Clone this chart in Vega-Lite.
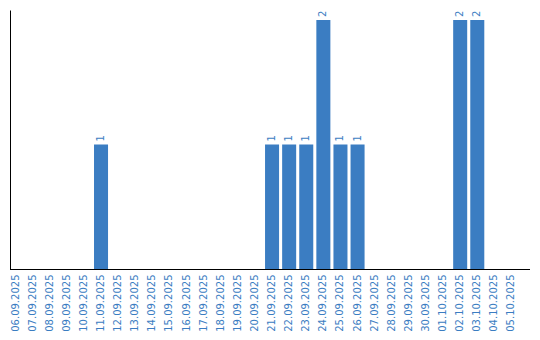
{
  "$schema": "https://vega.github.io/schema/vega-lite/v6.json",
  "width": 520,
  "height": 259,
  "autosize": "none",
  "padding": {"left": 10, "top": 10, "right": 10, "bottom": 71},
  "background": "white",
  "config": {"view": {"stroke": null}, "font": "DejaVu Sans"},
  "data": {"values": [
    {"date": "06.09.2025", "count": 0},
    {"date": "07.09.2025", "count": 0},
    {"date": "08.09.2025", "count": 0},
    {"date": "09.09.2025", "count": 0},
    {"date": "10.09.2025", "count": 0},
    {"date": "11.09.2025", "count": 1},
    {"date": "12.09.2025", "count": 0},
    {"date": "13.09.2025", "count": 0},
    {"date": "14.09.2025", "count": 0},
    {"date": "15.09.2025", "count": 0},
    {"date": "16.09.2025", "count": 0},
    {"date": "17.09.2025", "count": 0},
    {"date": "18.09.2025", "count": 0},
    {"date": "19.09.2025", "count": 0},
    {"date": "20.09.2025", "count": 0},
    {"date": "21.09.2025", "count": 1},
    {"date": "22.09.2025", "count": 1},
    {"date": "23.09.2025", "count": 1},
    {"date": "24.09.2025", "count": 2},
    {"date": "25.09.2025", "count": 1},
    {"date": "26.09.2025", "count": 1},
    {"date": "27.09.2025", "count": 0},
    {"date": "28.09.2025", "count": 0},
    {"date": "29.09.2025", "count": 0},
    {"date": "30.09.2025", "count": 0},
    {"date": "01.10.2025", "count": 0},
    {"date": "02.10.2025", "count": 2},
    {"date": "03.10.2025", "count": 2},
    {"date": "04.10.2025", "count": 0},
    {"date": "05.10.2025", "count": 0}
  ]},
  "layer": [
    {
      "mark": {"type": "bar", "color": "#3b7dc2"},
      "encoding": {
        "x": {
          "field": "date", "type": "nominal", "sort": null,
          "scale": {"range": [-1.5, 508.5], "paddingInner": 0.18, "paddingOuter": 0},
          "axis": {
            "title": null, "labelAngle": 270, "ticks": false, "labelPadding": 5,
            "labelColor": "#3b7dc2", "labelFontSize": 10, "labelFont": "DejaVu Sans",
            "domain": false, "labelOverlap": false
          }
        },
        "y": {
          "field": "count", "type": "quantitative",
          "scale": {"domain": [0, 2.08], "nice": false},
          "axis": {
            "title": null, "labels": false, "ticks": false, "grid": false,
            "domainColor": "#000000", "domainWidth": 1
          }
        }
      }
    },
    {
      "transform": [{"filter": "datum.count > 0"}],
      "mark": {"type": "text", "angle": 270, "align": "left", "baseline": "middle", "dx": 3, "fontSize": 10, "color": "#3b7dc2", "font": "DejaVu Sans"},
      "encoding": {
        "x": {"field": "date", "type": "nominal", "sort": null},
        "y": {"field": "count", "type": "quantitative"},
        "text": {"field": "count", "type": "quantitative"}
      }
    },
    {
      "mark": {"type": "rule", "color": "#000000", "strokeWidth": 1, "yOffset": 0.5},
      "encoding": {"y": {"datum": 0}}
    }
  ]
}
